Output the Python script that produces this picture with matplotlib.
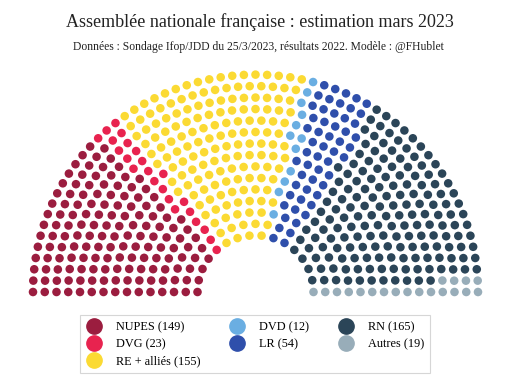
import numpy as np
from matplotlib import pyplot as plt
from matplotlib.lines import Line2D

# Seats per group, left to right.
parties = ['NUPES', 'DVG', 'RE + alliés', 'DVD', 'LR', 'RN', 'Autres']
seats = [149, 23, 155, 12, 54, 165, 19]
colors = ['#9b1d3f', '#e8234f', '#fbda33', '#6aaee2', '#2f4fab', '#2b4558', '#98adb9']

title = 'Assemblée nationale française : estimation mars 2023'
subtitle = 'Données : Sondage Ifop/JDD du 25/3/2023, résultats 2022. Modèle : @FHublet'

# Hemicycle layout: rows of seats, seat count per row proportional to radius.
total = sum(seats)
nrows = 15
r_in, r_out = 58, 222.5
radii = np.linspace(r_in, r_out, nrows)
per_row = np.floor(total * radii / radii.sum()).astype(int)
rest = total - per_row.sum()
order = np.argsort(-(total * radii / radii.sum() - per_row))
per_row[order[:rest]] += 1

pos = []
for r, n in zip(radii, per_row):
    for th in np.linspace(np.pi, 0, n):
        pos.append((th, r))
pos.sort(key=lambda p: (-p[0], p[1]))
pos = np.array(pos)
seat_colors = np.repeat(colors, seats)

cx, cy, squash = 255.5, 292, 0.977
x = cx + pos[:, 1] * np.cos(pos[:, 0])
y = cy - squash * pos[:, 1] * np.sin(pos[:, 0])

fig = plt.figure(figsize=(5.12, 3.84), dpi=100)
ax = fig.add_axes([0, 0, 1, 1])
ax.set_xlim(0, 512)
ax.set_ylim(384, 0)
ax.axis('off')
ax.scatter(x, y, s=38, c=seat_colors, linewidths=0)

serif = 'Liberation Serif'
fig.text(260 / 512, 1 - 22 / 384, title, ha='center', va='center',
         family=serif, fontsize=13, color='#222222')
fig.text(258 / 512, 1 - 47 / 384, subtitle, ha='center', va='center',
         family=serif, fontsize=8.4, color='#222222')

handles = [Line2D([], [], ls='', marker='o', ms=11, mfc=c, mec=c) for c in colors]
labels = [f'{p} ({n})' for p, n in zip(parties, seats)]
leg = ax.legend(handles, labels, ncol=3, loc='center', bbox_to_anchor=(255 / 512, 1 - 344 / 384),
                bbox_transform=fig.transFigure, frameon=True, fancybox=False,
                prop={'family': serif, 'size': 8.8}, handlelength=1.4, handletextpad=1.1,
                columnspacing=2.3, labelspacing=0.4, borderpad=0.5)
leg.get_frame().set_edgecolor('#cccccc')
leg.get_frame().set_linewidth(0.8)

fig.savefig('out.png', dpi=100)
